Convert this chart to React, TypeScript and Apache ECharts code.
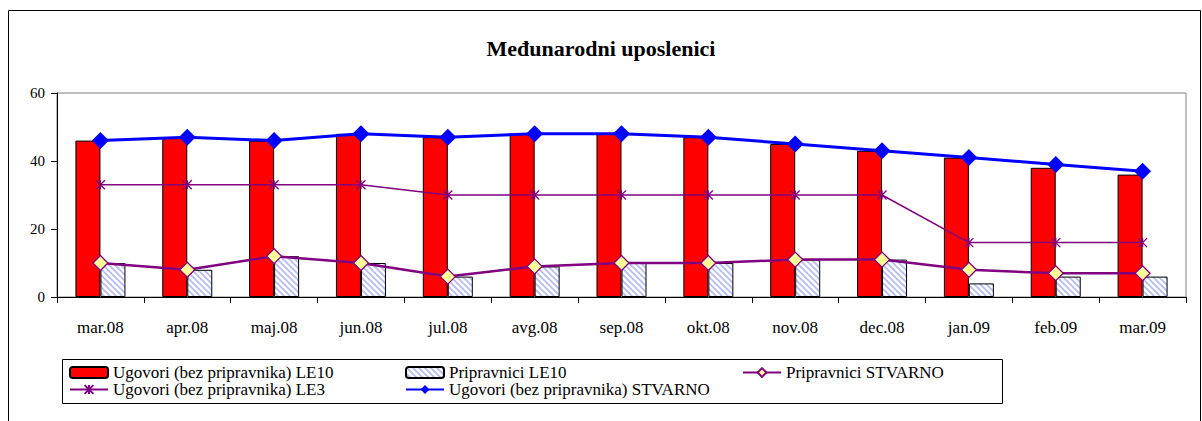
import React, { useEffect, useRef } from "react";
import * as echarts from "echarts";

const categories = ["mar.08", "apr.08", "maj.08", "jun.08", "jul.08", "avg.08", "sep.08", "okt.08", "nov.08", "dec.08", "jan.09", "feb.09", "mar.09"];
const ugovoriLE10 = [46, 47, 46, 48, 47, 48, 48, 47, 45, 43, 41, 38, 36];
const pripravniciLE10 = [10, 8, 12, 10, 6, 9, 10, 10, 11, 11, 4, 6, 6];
const pripravniciStvarno = [10, 8, 12, 10, 6, 9, 10, 10, 11, 11, 8, 7, 7];
const ugovoriLE3 = [33, 33, 33, 33, 30, 30, 30, 30, 30, 30, 16, 16, 16];
const ugovoriStvarno = [46, 47, 46, 48, 47, 48, 48, 47, 45, 43, 41, 39, 37];

const N1 = "Ugovori (bez pripravnika) LE10";
const N2 = "Pripravnici LE10";
const N3 = "Pripravnici STVARNO";
const N4 = "Ugovori (bez pripravnika) LE3";
const N5 = "Ugovori (bez pripravnika) STVARNO";

const FONT = "serif";
const STAR = "path://M0,0L10,10M10,0L0,10M5,0L5,10";

function makeHatch(): HTMLCanvasElement {
  const c = document.createElement("canvas");
  c.width = 6;
  c.height = 6;
  const ctx = c.getContext("2d")!;
  ctx.fillStyle = "#ffffff";
  ctx.fillRect(0, 0, 6, 6);
  ctx.strokeStyle = "#b3baf4";
  ctx.lineWidth = 1.6;
  ctx.beginPath();
  ctx.moveTo(-1, -1);
  ctx.lineTo(7, 7);
  ctx.moveTo(-4, 2);
  ctx.lineTo(4, 10);
  ctx.moveTo(2, -4);
  ctx.lineTo(10, 4);
  ctx.stroke();
  return c;
}

export default function App() {
  const ref = useRef<HTMLDivElement>(null);
  useEffect(() => {
    if (!ref.current) return;
    const chart = echarts.init(ref.current, null, { renderer: "svg" });
    const hatch = makeHatch();
    const legendText = { fontFamily: FONT, fontSize: 17, color: "#000" };
    chart.setOption({
      animation: false,
      textStyle: { fontFamily: FONT },
      title: {
        text: "Međunarodni uposlenici",
        left: "center",
        top: 32,
        textStyle: { fontFamily: FONT, fontSize: 22, fontWeight: "bold", color: "#000" },
      },
      graphic: [
        { type: "rect", shape: { x: 8.5, y: 10.5, width: 1192, height: 430 }, style: { fill: "none", stroke: "#000", lineWidth: 1 }, silent: true },
        { type: "rect", shape: { x: 62.5, y: 359.5, width: 940, height: 44 }, style: { fill: "none", stroke: "#000", lineWidth: 1 }, silent: true },
      ],
      legend: [
        { data: [N1, N4], orient: "vertical", left: 69, top: 364, padding: 0, itemGap: 0, itemWidth: 38, itemHeight: 11, textStyle: legendText },
        { data: [N2, N5], orient: "vertical", left: 405, top: 364, padding: 0, itemGap: 0, itemWidth: 38, itemHeight: 11, textStyle: legendText },
        { data: [N3], orient: "vertical", left: 742, top: 364, padding: 0, itemGap: 0, itemWidth: 38, itemHeight: 11, textStyle: legendText },
      ],
      grid: { left: 57, right: 16, top: 93, bottom: 124, show: true, borderColor: "#808080", borderWidth: 1, backgroundColor: "transparent" },
      xAxis: {
        type: "category",
        data: categories,
        boundaryGap: true,
        axisLine: { lineStyle: { color: "#000", width: 1 } },
        axisTick: { show: true, length: 6, lineStyle: { color: "#000" } },
        axisLabel: { fontFamily: FONT, fontSize: 17, color: "#000", margin: 22 },
        splitLine: { show: false },
      },
      yAxis: {
        type: "value",
        min: 0,
        max: 60,
        interval: 20,
        axisLine: { show: true, lineStyle: { color: "#000", width: 1 } },
        axisTick: { show: true, length: 6, lineStyle: { color: "#000" } },
        axisLabel: { fontFamily: FONT, fontSize: 15, color: "#000", margin: 12 },
        splitLine: { show: false },
      },
      series: [
        {
          name: N1,
          type: "bar",
          data: ugovoriLE10,
          barWidth: 25,
          barGap: "0%",
          itemStyle: { color: "#ff0000", borderColor: "#000", borderWidth: 1 },
        },
        {
          name: N2,
          type: "bar",
          data: pripravniciLE10,
          barWidth: 25,
          barGap: "0%",
          itemStyle: {
            color: { image: hatch, repeat: "repeat" },
            borderColor: "#000",
            borderWidth: 1,
          },
        },
        {
          name: N4,
          type: "line",
          data: ugovoriLE3,
          symbol: STAR,
          symbolSize: 9,
          lineStyle: { color: "#800080", width: 1.5 },
          itemStyle: { color: "transparent", borderColor: "#800080", borderWidth: 1.3 },
          z: 3,
        },
        {
          name: N3,
          type: "line",
          data: pripravniciStvarno,
          symbol: "diamond",
          symbolSize: 15,
          lineStyle: { color: "#800080", width: 2.5 },
          itemStyle: { color: "#ffff99", borderColor: "#800080", borderWidth: 1.3 },
          z: 4,
        },
        {
          name: N5,
          type: "line",
          data: ugovoriStvarno,
          symbol: "diamond",
          symbolSize: 17,
          lineStyle: { color: "#0000ff", width: 3 },
          itemStyle: { color: "#0000ff" },
          z: 5,
        },
      ],
    });
    return () => chart.dispose();
  }, []);
  return <div ref={ref} style={{ position: "fixed", left: 0, top: 0, width: 1202, height: 421, background: "#fff" }} />;
}
